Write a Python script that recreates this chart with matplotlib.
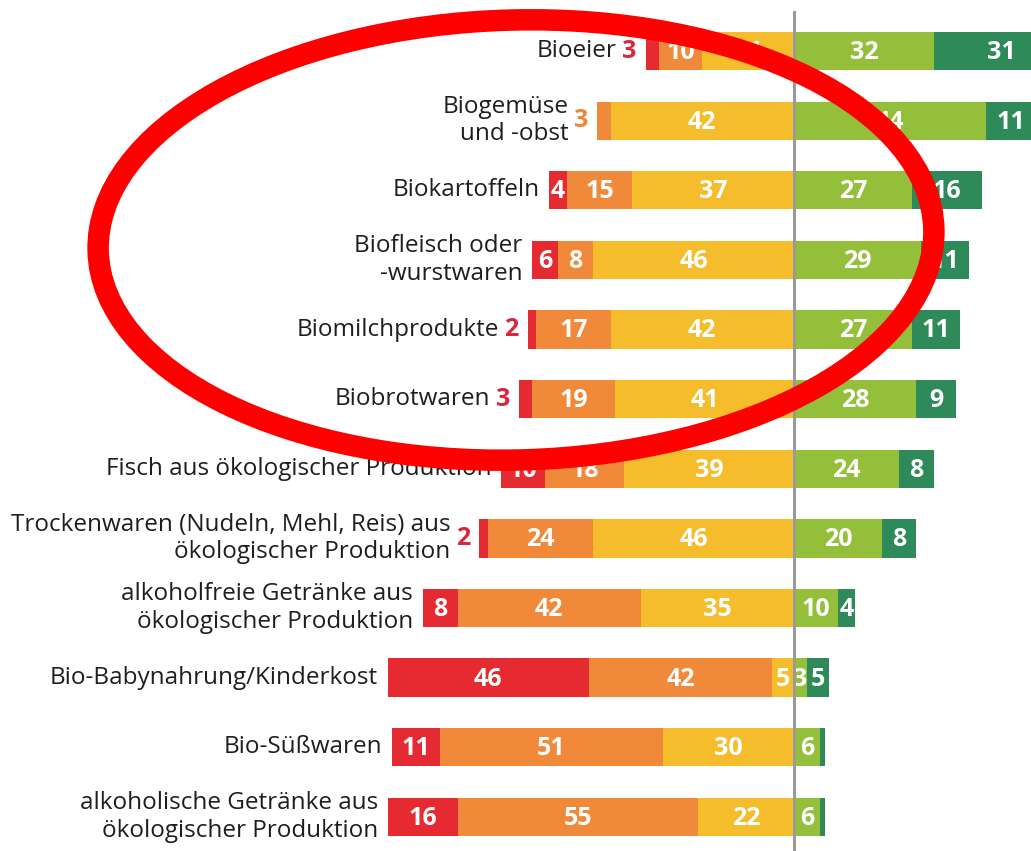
import numpy as np
import matplotlib
matplotlib.use("Agg")
import matplotlib.pyplot as plt
from matplotlib.patches import Ellipse

plt.rcParams['font.family'] = ['Open Sans', 'DejaVu Sans']

categories = [
    "Bioeier",
    "Biogemüse\nund -obst",
    "Biokartoffeln",
    "Biofleisch oder\n-wurstwaren",
    "Biomilchprodukte",
    "Biobrotwaren",
    "Fisch aus ökologischer Produktion",
    "Trockenwaren (Nudeln, Mehl, Reis) aus\nökologischer Produktion",
    "alkoholfreie Getränke aus\nökologischer Produktion",
    "Bio-Babynahrung/Kinderkost",
    "Bio-Süßwaren",
    "alkoholische Getränke aus\nökologischer Produktion",
]
red = [3, 0, 4, 6, 2, 3, 10, 2, 8, 46, 11, 16]
orange = [10, 3, 15, 8, 17, 19, 18, 24, 42, 42, 51, 55]
yellow = [21, 42, 37, 46, 42, 41, 39, 46, 35, 5, 30, 22]
light_green = [32, 44, 27, 29, 27, 28, 24, 20, 10, 3, 6, 6]
dark_green = [31, 11, 16, 11, 11, 9, 8, 8, 4, 5, 1, 1]

COLORS = ["#E62A32", "#F0893A", "#F5BD2C", "#93BF3B", "#2E8A58"]
LABEL_COLORS = ["#D7283F", "#E8893E"]


def draw_bars(ax):
    y = np.arange(len(categories))
    left_parts = [red, orange, yellow]
    right_parts = [light_green, dark_green]
    left_total = np.array(red) + np.array(orange) + np.array(yellow)
    h = 0.55

    # left side (negative), stacked from the far left towards zero
    start = -left_total.astype(float)
    segs = []
    for k, part in enumerate(left_parts):
        part = np.array(part, dtype=float)
        ax.barh(y, part, left=start, height=h, color=COLORS[k],
                edgecolor="none", zorder=2)
        segs.append((k, start.copy(), part))
        start = start + part
    start = np.zeros(len(categories))
    for k, part in enumerate(right_parts):
        part = np.array(part, dtype=float)
        ax.barh(y, part, left=start, height=h, color=COLORS[k + 3],
                edgecolor="none", zorder=2)
        segs.append((k + 3, start.copy(), part))
        start = start + part

    # value labels
    for i in range(len(categories)):
        bar_start = -left_total[i]
        outside = False
        for k, s, part in segs:
            v = part[i]
            if v == 0:
                continue
            if s[i] == bar_start and v <= 3:
                ax.text(bar_start - 2.0, i, "%d" % v, ha="right",
                        va="center", color=LABEL_COLORS[k], fontsize=18,
                        fontweight="bold", zorder=3)
                outside = True
                continue
            if v < 3:
                continue
            ax.text(s[i] + v / 2, i + 0.02, "%d" % v, ha="center",
                    va="center", color="white", fontsize=18,
                    fontweight="bold", zorder=3)
        gap = 6.6 if outside else 2.2
        ax.text(bar_start - gap, i, categories[i], ha="right", va="center",
                multialignment="right", color="#1e1e1e", fontsize=17.5,
                linespacing=1.2, zorder=3)

    ax.plot([0, 0], [-0.56, 11.6], color="#9a9a9a", lw=2.2, zorder=4)


def main():
    fig = plt.figure(figsize=(10.31, 8.51), dpi=100)
    ax = fig.add_axes([0, 0, 1, 1])
    ax.set_xlim(-181.7, 54.2)
    ax.set_ylim(11.49, -0.733)
    ax.axis("off")
    draw_bars(ax)

    # red marker ellipse drawn over the chart (pixel coordinates)
    over = fig.add_axes([0, 0, 1, 1])
    over.set_xlim(0, 1031)
    over.set_ylim(851, 0)
    over.axis("off")
    over.patch.set_alpha(0)
    over.add_patch(Ellipse((516, 240), 836, 440, angle=-1.5, fill=False,
                           edgecolor="#FF0000", lw=15.5))

    fig.savefig("out.png", dpi=100)


if __name__ == "__main__":
    main()
